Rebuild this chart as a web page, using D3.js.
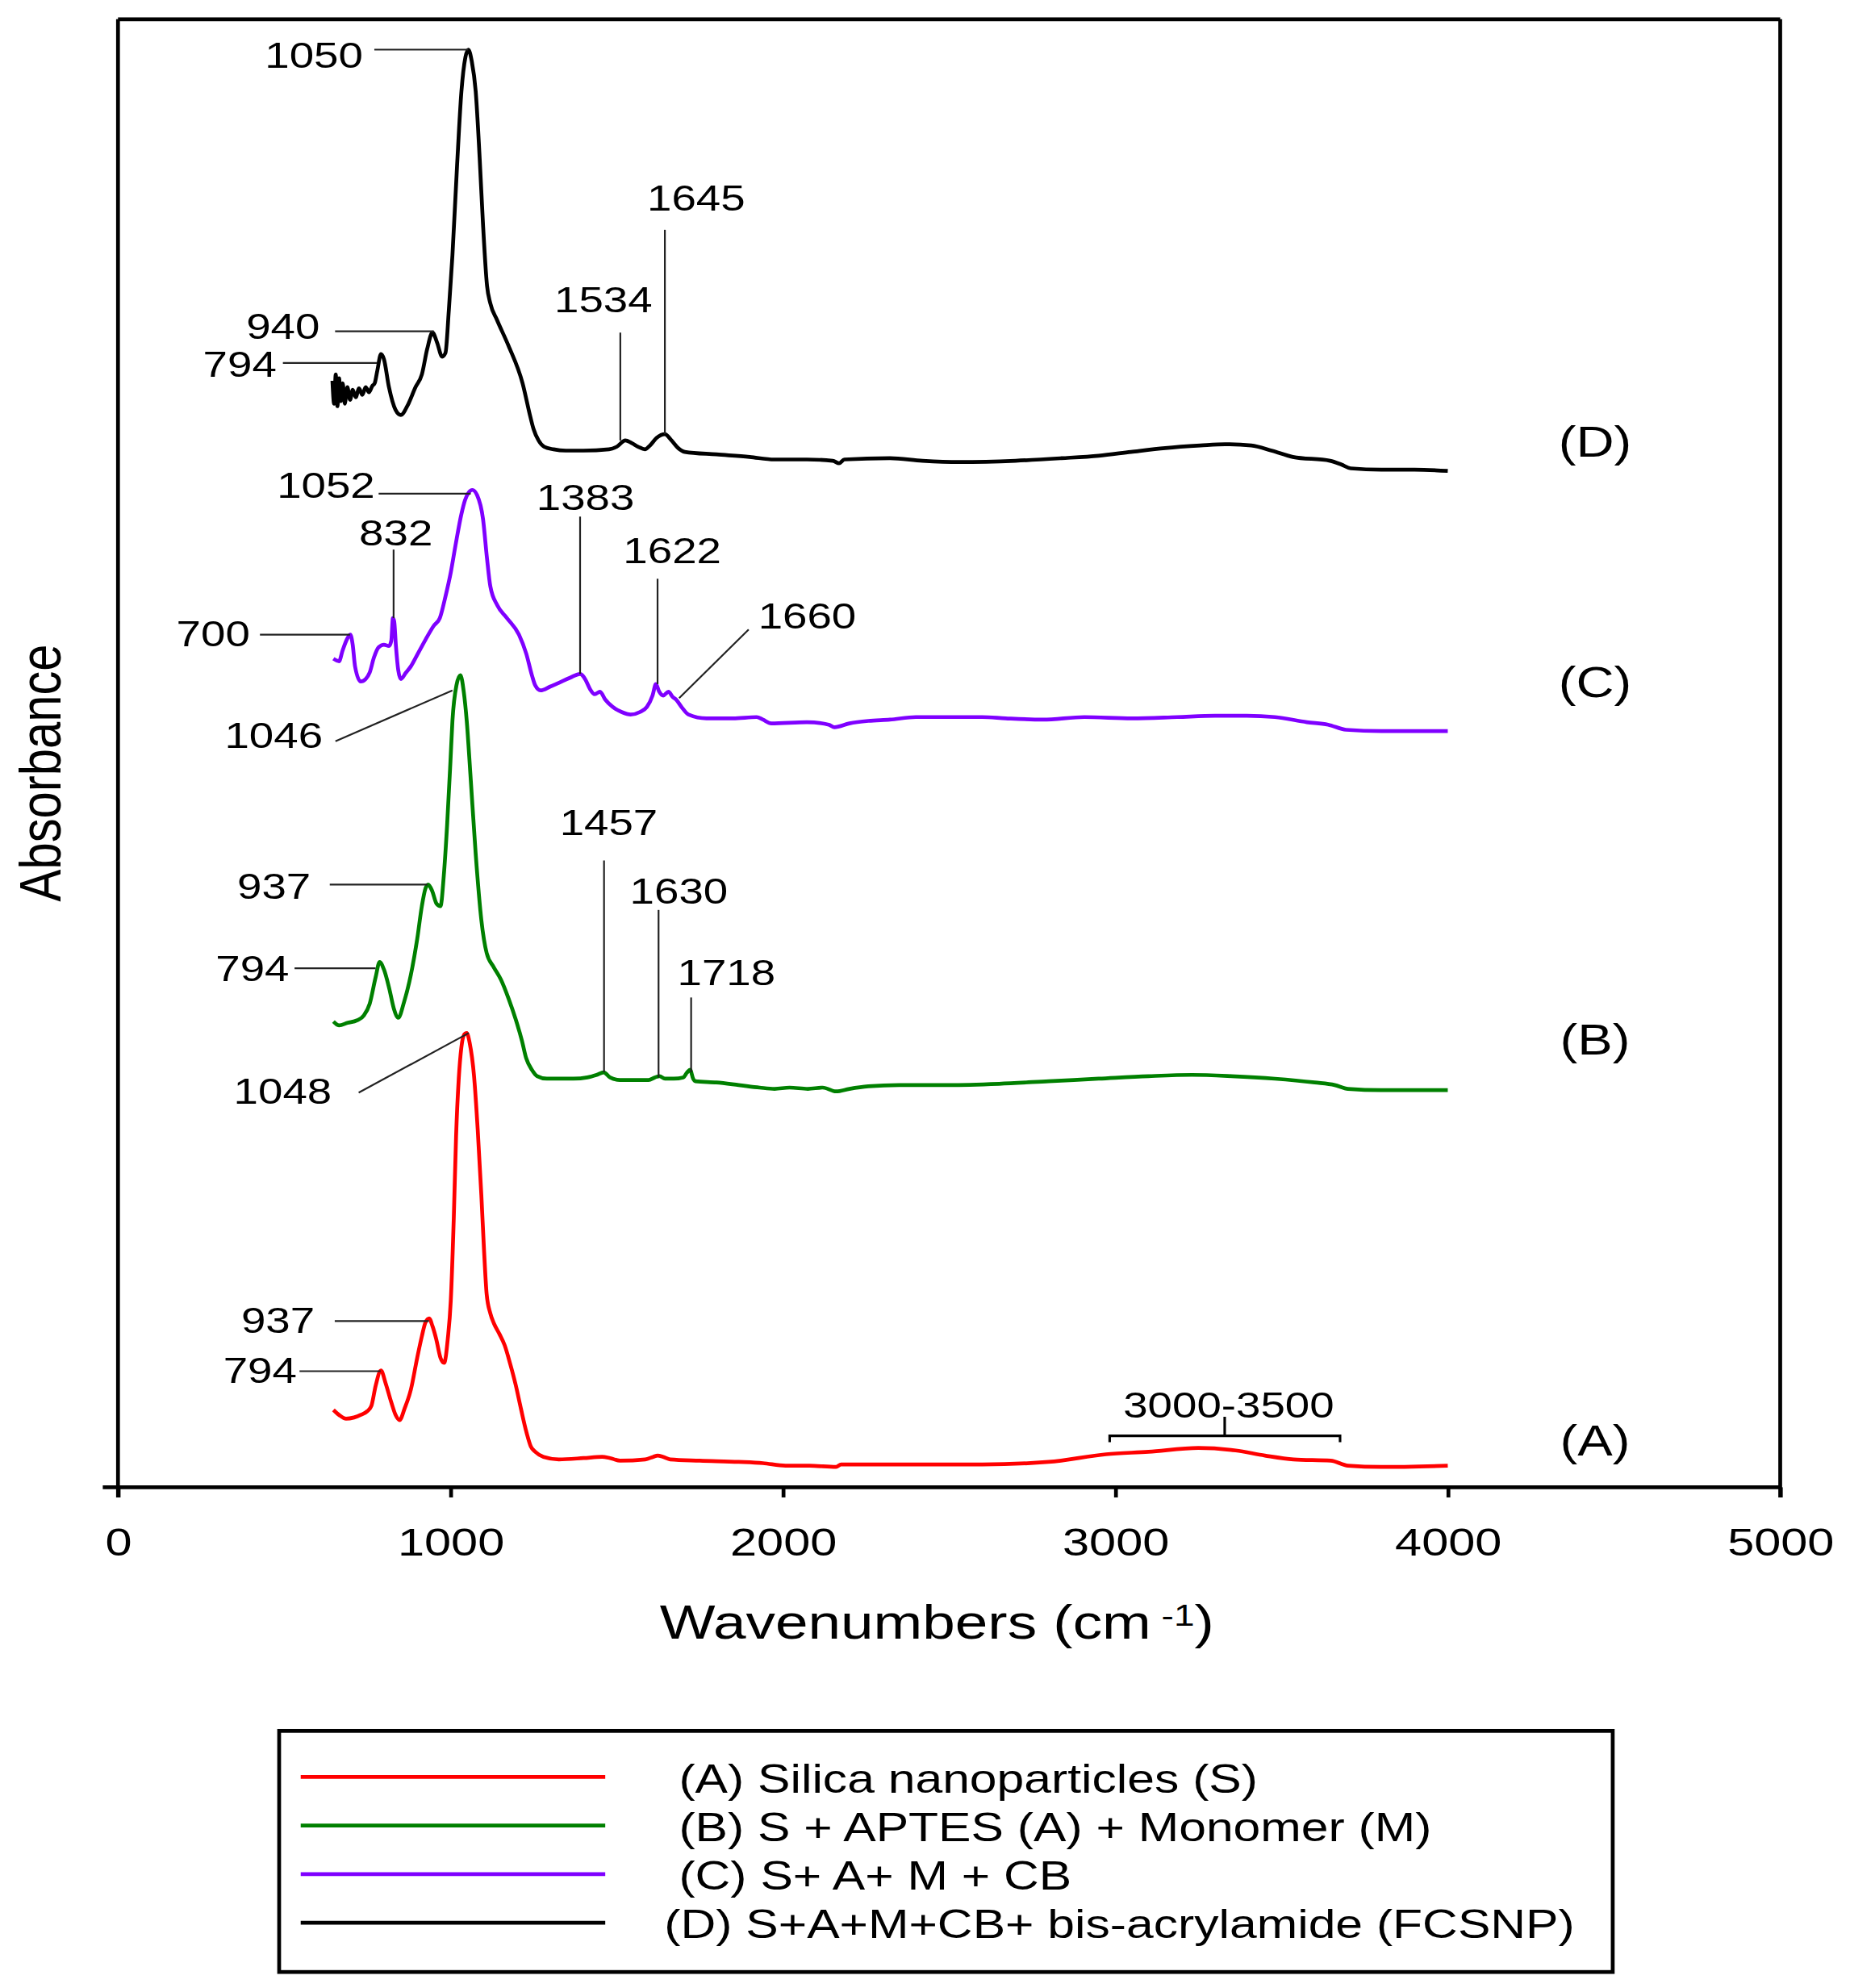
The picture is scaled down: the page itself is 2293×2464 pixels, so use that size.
<!DOCTYPE html>
<html>
<head>
<meta charset="utf-8">
<script src="https://cdn.jsdelivr.net/npm/d3@7"></script>
<style>
  html, body { margin: 0; padding: 0; background: #fff; }
  svg { display: block; }
  text { font-family: "Liberation Sans", Arial, sans-serif; fill: #000; }
</style>
</head>
<body>
<svg id="ftir"></svg>
<script>
// spectra: [wavenumber cm-1, absorbance (a.u., stacked)]
var seriesA = [
  [648, 0.061], [665, 0.057], [686, 0.054], [710, 0.055], [730, 0.057], [750, 0.060], [762, 0.064],
  [775, 0.080], [791, 0.092], [805, 0.082], [822, 0.067], [835, 0.057], [847, 0.053], [862, 0.062],
  [881, 0.077], [900, 0.102], [914, 0.119], [925, 0.130], [936, 0.133], [946, 0.127], [957, 0.117],
  [970, 0.102], [981, 0.098], [992, 0.117], [1001, 0.147], [1010, 0.212], [1017, 0.277], [1025, 0.322],
  [1033, 0.347], [1042, 0.357], [1049, 0.358], [1058, 0.350], [1071, 0.324], [1082, 0.282], [1093, 0.230],
  [1101, 0.187], [1109, 0.152], [1120, 0.137], [1131, 0.129], [1147, 0.121], [1163, 0.112], [1180, 0.097],
  [1196, 0.081], [1212, 0.062], [1228, 0.044], [1242, 0.032], [1255, 0.028], [1280, 0.024], [1326, 0.022],
  [1400, 0.023], [1456, 0.024], [1480, 0.023], [1510, 0.021], [1586, 0.022], [1610, 0.024], [1623, 0.025],
  [1640, 0.024], [1661, 0.022], [1750, 0.021], [1867, 0.020], [1940, 0.019], [2008, 0.017], [2080, 0.017],
  [2160, 0.016], [2175, 0.018], [2257, 0.018], [2400, 0.018], [2600, 0.018], [2799, 0.020], [2972, 0.026],
  [3100, 0.028], [3250, 0.031], [3362, 0.029], [3450, 0.025], [3536, 0.022], [3648, 0.021], [3700, 0.017],
  [3800, 0.016], [4000, 0.017]
];
var seriesB = [
  [648, 0.367], [665, 0.364], [690, 0.366], [719, 0.368], [740, 0.372], [757, 0.381], [775, 0.402],
  [787, 0.414], [800, 0.408], [816, 0.393], [830, 0.377], [843, 0.370], [860, 0.382], [881, 0.404],
  [900, 0.432], [914, 0.458], [925, 0.472], [933, 0.475], [945, 0.470], [958, 0.460], [970, 0.458],
  [980, 0.482], [990, 0.522], [1000, 0.572], [1006, 0.604], [1018, 0.632], [1030, 0.640], [1040, 0.627],
  [1049, 0.604], [1060, 0.562], [1076, 0.499], [1093, 0.447], [1109, 0.421], [1130, 0.410], [1152, 0.400],
  [1175, 0.385], [1196, 0.369], [1215, 0.352], [1228, 0.338], [1245, 0.329], [1261, 0.324], [1290, 0.322],
  [1326, 0.322], [1370, 0.322], [1412, 0.323], [1440, 0.325], [1461, 0.327], [1480, 0.323], [1510, 0.321],
  [1596, 0.321], [1615, 0.323], [1629, 0.324], [1645, 0.322], [1672, 0.322], [1700, 0.323], [1712, 0.327],
  [1721, 0.329], [1730, 0.322], [1737, 0.320], [1800, 0.319], [1867, 0.317], [1930, 0.315], [1975, 0.314],
  [2020, 0.315], [2075, 0.314], [2120, 0.315], [2160, 0.312], [2200, 0.314], [2257, 0.316], [2350, 0.317],
  [2500, 0.317], [2650, 0.318], [2800, 0.320], [2950, 0.322], [3100, 0.324], [3230, 0.325], [3350, 0.324],
  [3480, 0.322], [3600, 0.319], [3660, 0.317], [3700, 0.314], [3800, 0.313], [4000, 0.313]
];
var seriesC = [
  [648, 0.653], [665, 0.651], [675, 0.659], [690, 0.669], [699, 0.672], [706, 0.664], [713, 0.647],
  [730, 0.635], [745, 0.637], [757, 0.642], [770, 0.654], [784, 0.662], [800, 0.664], [815, 0.663],
  [822, 0.667], [827, 0.685], [831, 0.682], [836, 0.663], [843, 0.644], [851, 0.637], [866, 0.642],
  [881, 0.647], [900, 0.656], [925, 0.668], [950, 0.679], [968, 0.685], [985, 0.702], [1001, 0.721],
  [1015, 0.742], [1033, 0.767], [1044, 0.778], [1055, 0.784], [1066, 0.786], [1080, 0.782], [1098, 0.763],
  [1110, 0.732], [1120, 0.710], [1141, 0.695], [1170, 0.685], [1206, 0.672], [1228, 0.657], [1245, 0.640],
  [1255, 0.632], [1271, 0.628], [1300, 0.631], [1326, 0.634], [1360, 0.638], [1390, 0.641], [1400, 0.639],
  [1407, 0.636], [1420, 0.629], [1434, 0.625], [1450, 0.627], [1465, 0.621], [1488, 0.615], [1515, 0.611],
  [1542, 0.609], [1570, 0.611], [1591, 0.615], [1608, 0.624], [1618, 0.633], [1628, 0.627], [1640, 0.624],
  [1656, 0.627], [1668, 0.623], [1678, 0.621], [1695, 0.615], [1716, 0.609], [1770, 0.606], [1850, 0.606],
  [1921, 0.607], [1940, 0.605], [1965, 0.602], [2072, 0.603], [2138, 0.601], [2155, 0.599], [2200, 0.602],
  [2257, 0.604], [2322, 0.605], [2400, 0.607], [2489, 0.607], [2600, 0.607], [2670, 0.606], [2782, 0.605],
  [2907, 0.607], [3050, 0.606], [3186, 0.607], [3300, 0.608], [3395, 0.608], [3480, 0.607], [3576, 0.603],
  [3640, 0.601], [3694, 0.597], [3800, 0.596], [3900, 0.596], [4000, 0.596]
];
var seriesD = [
  [645, 0.872], [650, 0.854], [655, 0.877], [660, 0.852], [665, 0.874], [670, 0.856], [676, 0.870],
  [682, 0.854], [690, 0.867], [698, 0.857], [706, 0.865], [715, 0.859], [725, 0.866], [735, 0.861],
  [745, 0.867], [755, 0.863], [765, 0.868], [772, 0.870], [780, 0.880], [791, 0.893], [800, 0.889],
  [815, 0.867], [835, 0.849], [851, 0.845], [870, 0.852], [895, 0.867], [914, 0.877], [930, 0.897],
  [946, 0.910], [960, 0.902], [975, 0.891], [985, 0.894], [995, 0.927], [1006, 0.971], [1020, 1.042],
  [1033, 1.100], [1045, 1.127], [1054, 1.133], [1064, 1.124], [1076, 1.100], [1088, 1.047], [1098, 0.995],
  [1110, 0.947], [1120, 0.933], [1140, 0.920], [1174, 0.900], [1217, 0.870], [1240, 0.844], [1250, 0.834],
  [1265, 0.825], [1282, 0.820], [1310, 0.818], [1347, 0.817], [1400, 0.817], [1477, 0.818], [1500, 0.820],
  [1526, 0.825], [1545, 0.823], [1565, 0.820], [1585, 0.818], [1600, 0.821], [1620, 0.827], [1645, 0.830],
  [1665, 0.825], [1685, 0.819], [1705, 0.816], [1800, 0.814], [1900, 0.812], [1974, 0.810], [2072, 0.810],
  [2150, 0.809], [2169, 0.807], [2185, 0.810], [2322, 0.811], [2420, 0.809], [2531, 0.808], [2700, 0.809],
  [2838, 0.811], [2950, 0.813], [3047, 0.816], [3150, 0.819], [3256, 0.821], [3330, 0.822], [3409, 0.821],
  [3470, 0.817], [3534, 0.812], [3646, 0.809], [3680, 0.806], [3708, 0.803], [3800, 0.802], [3900, 0.802],
  [4000, 0.801]
];

var seriesNames = ['(A)', '(B)', '(C)', '(D)'];
var seriesColors = ['#ff0000', '#008000', '#7f00ff', '#000000'];
var seriesLabelAbs = [0.025, 0.341, 0.623, 0.812];
var seriesLabelWn = 4443;
var legendTexts = [
  '(A) Silica nanoparticles (S)',
  '(B) S + APTES (A) + Monomer (M)',
  '(C) S+ A+ M + CB',
  '(D) S+A+M+CB+ bis-acrylamide (FCSNP)'
];
var xTicks = [0, 1000, 2000, 3000, 4000, 5000];

// peak labels: text, label wn, label abs, anchor, leader from (wn, abs) to (wn, abs)
var peakLabels = [
  ['1050', 737, 1.119, 'end', 771, 1.133, 1053, 1.133],
  ['940', 607, 0.905, 'end', 653, 0.911, 950, 0.911],
  ['794', 477, 0.875, 'end', 496, 0.886, 779, 0.886],
  ['1534', 1460, 0.926, 'middle', 1511, 0.910, 1511, 0.825],
  ['1645', 1739, 1.006, 'middle', 1645, 0.991, 1645, 0.830],
  ['1052', 773, 0.780, 'end', 784, 0.783, 1061, 0.783],
  ['832', 836, 0.742, 'middle', 829, 0.739, 829, 0.685],
  ['700', 397, 0.663, 'end', 427, 0.672, 698, 0.672],
  ['1383', 1406, 0.770, 'middle', 1390, 0.765, 1390, 0.641],
  ['1622', 1667, 0.728, 'middle', 1623, 0.716, 1623, 0.633],
  ['1660', 2073, 0.677, 'middle', 1897, 0.676, 1688, 0.622],
  ['1046', 616, 0.583, 'end', 654, 0.588, 1006, 0.628],
  ['937', 580, 0.464, 'end', 637, 0.475, 931, 0.475],
  ['794', 515, 0.399, 'end', 531, 0.409, 775, 0.409],
  ['1457', 1476, 0.514, 'middle', 1462, 0.494, 1462, 0.327],
  ['1630', 1687, 0.460, 'middle', 1626, 0.455, 1626, 0.323],
  ['1718', 1830, 0.396, 'middle', 1724, 0.386, 1724, 0.327],
  ['1048', 643, 0.302, 'end', 724, 0.311, 1055, 0.358],
  ['937', 592, 0.122, 'end', 652, 0.131, 935, 0.131],
  ['794', 538, 0.082, 'end', 546, 0.0915, 790, 0.0915]
];
// bracket over the broad O-H band of (A)
var bracketWn = [2983, 3676];
var bracketMidWn = 3329;
var bracketAbs = 0.0405;
var bracketText = '3000-3500';
var bracketTextAbs = 0.055;

// layout (drawn in a 1458 x 1566.5 box, scaled up to the window)
var W = 1458, H = 1566.5;
var plotL = 93, plotR = 1403, plotT = 15, plotB = 1172;
var SX = 1.22; // the source figure is stretched horizontally
var lw = 3;

var svg = d3.select('#ftir')
  .attr('width', 2293)
  .attr('height', 2464)
  .attr('viewBox', '0 0 ' + W + ' ' + H);

var x = d3.scaleLinear().domain([0, 5000]).range([plotL, plotR]);
var y = d3.scaleLinear().domain([0, 1.157]).range([plotB, plotT]);

function label(sel, px, py, str, size, anchor) {
  return sel.append('text')
    .attr('transform', 'translate(' + px + ',' + py + ') scale(' + SX + ',1)')
    .attr('text-anchor', anchor)
    .attr('font-size', size)
    .text(str);
}

// frame: top and right lines
svg.append('line').attr('x1', plotL).attr('x2', plotR).attr('y1', plotT).attr('y2', plotT)
  .attr('stroke', '#000').attr('stroke-width', lw);
svg.append('line').attr('x1', plotR).attr('x2', plotR).attr('y1', plotT).attr('y2', plotB + 8)
  .attr('stroke', '#000').attr('stroke-width', lw);

// x axis
var gx = svg.append('g').attr('transform', 'translate(0,' + plotB + ')')
  .call(d3.axisBottom(x).tickValues(xTicks).tickSize(8).tickSizeOuter(0).tickFormat(d3.format('d')));
gx.select('.domain').remove();
gx.selectAll('.tick line').attr('stroke', '#000').attr('stroke-width', lw);
gx.selectAll('.tick text')
  .attr('y', 0).attr('dy', 0)
  .attr('transform', 'translate(0,54) scale(' + SX + ',1)')
  .attr('font-size', 31)
  .attr('font-family', '"Liberation Sans", Arial, sans-serif')
  .attr('fill', '#000');
svg.append('line').attr('x1', plotL - 12).attr('x2', plotR).attr('y1', plotB).attr('y2', plotB)
  .attr('stroke', '#000').attr('stroke-width', lw);

// y axis (no ticks)
svg.append('line').attr('x1', plotL).attr('x2', plotL).attr('y1', plotT).attr('y2', plotB + 8)
  .attr('stroke', '#000').attr('stroke-width', lw);

// axis titles
var xt = svg.append('text')
  .attr('transform', 'translate(520,1291) scale(' + SX + ',1)')
  .attr('font-size', 38);
xt.append('tspan').text('Wavenumbers (cm');
xt.append('tspan').attr('font-size', 24).attr('dy', -10).text('\u00a0-1');
xt.append('tspan').attr('dy', 10).text(')');

svg.append('text')
  .attr('transform', 'translate(47.7,609) scale(' + SX + ',1) rotate(-90)')
  .attr('text-anchor', 'middle')
  .attr('font-size', 38)
  .text('Absorbance');

// spectra
var line = d3.line()
  .x(function(d) { return x(d[0]); })
  .y(function(d) { return y(d[1]); })
  .curve(d3.curveMonotoneX);

var allSeries = [seriesA, seriesB, seriesC, seriesD];
allSeries.forEach(function(s, i) {
  svg.append('path')
    .datum(s)
    .attr('fill', 'none')
    .attr('stroke', seriesColors[i])
    .attr('stroke-width', lw)
    .attr('stroke-linejoin', 'round')
    .attr('d', line);
  label(svg, x(seriesLabelWn), y(seriesLabelAbs[i]), seriesNames[i], 34, 'middle');
});

// peak annotations
peakLabels.forEach(function(p) {
  svg.append('line')
    .attr('x1', x(p[4])).attr('y1', y(p[5]))
    .attr('x2', x(p[6])).attr('y2', y(p[7]))
    .attr('stroke', '#222').attr('stroke-width', 1.4);
  label(svg, x(p[1]), y(p[2]), p[0], 28.5, p[3]);
});

// bracket
var by = y(bracketAbs);
svg.append('path')
  .attr('d', 'M' + x(bracketWn[0]) + ',' + (by + 5) + 'V' + by + 'H' + x(bracketWn[1]) + 'V' + (by + 5)
    + 'M' + x(bracketMidWn) + ',' + by + 'V' + (by - 15))
  .attr('fill', 'none').attr('stroke', '#000').attr('stroke-width', 2);
label(svg, x(bracketMidWn + 12), y(bracketTextAbs), bracketText, 28.5, 'middle');

// legend
var lg = svg.append('g');
lg.append('rect')
  .attr('x', 220).attr('y', 1364).attr('width', 1051).attr('height', 190)
  .attr('fill', 'none').attr('stroke', '#000').attr('stroke-width', 3);
legendTexts.forEach(function(t, i) {
  var ry = 1400.3 + i * 38.3;
  lg.append('line')
    .attr('x1', 237).attr('x2', 477).attr('y1', ry).attr('y2', ry)
    .attr('stroke', seriesColors[i]).attr('stroke-width', lw);
  label(lg, i === 3 ? 523.5 : 535, ry + 12.3, t, 31.6, 'start');
});
</script>
</body>
</html>
